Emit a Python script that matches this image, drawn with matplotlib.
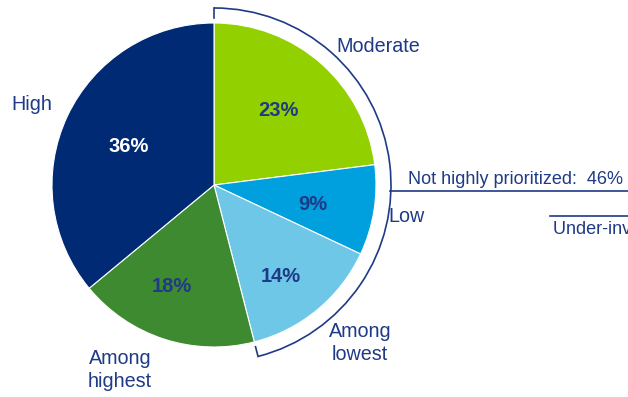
import matplotlib.pyplot as plt
from matplotlib.patches import Arc
import numpy as np

plt.rcParams['font.family'] = ['Liberation Sans', 'DejaVu Sans']

categories = ["Moderate", "Low", "Among\nlowest", "Among\nhighest", "High"]
shares = [23, 9, 14, 18, 36]
colors = ["#92D000", "#00A0DF", "#6FC7E8", "#3E8A30", "#002A74"]
pct_colors = ["#1F3A86", "#1F3A86", "#1F3A86", "#1F3A86", "white"]
bracket_label = "Not highly prioritized:  46%"
other_label = "Under-invested: 54%"

NAVY = "#1F3A86"
W, H = 628, 397
cx, cy, r = 214, H - 185, 162

fig = plt.figure(figsize=(W / 100, H / 100), dpi=100)
ax = fig.add_axes([0, 0, 1, 1])

wedges, texts, autotexts = ax.pie(
    shares, colors=colors, startangle=90, counterclock=False,
    center=(cx, cy), radius=r, frame=True,
    autopct=lambda p: f"{p:.0f}%", pctdistance=0.62,
    wedgeprops=dict(edgecolor="white", linewidth=0.8),
    textprops=dict(fontsize=14.5, fontweight="bold"))

# percentage labels sit a bit unevenly in the original
pct_pos = [(278, 111), (313, 204), (281, 277), (172, 287), (129, 147)]
for t, c, (x, y) in zip(autotexts, pct_colors, pct_pos):
    t.set_color(c)
    t.set_position((x, H - y))

# outside labels
label_pos = [(378, 46), (406, 216), (360, 343), (120, 370), (32, 104)]
for name, (x, y) in zip(categories, label_pos):
    ax.text(x, H - y, name, fontsize=14.2, color=NAVY, ha="center", va="center",
            linespacing=1.3)

# bracket around the first three slices
end_angle = 90 - 360 * sum(shares[:3]) / 100
br = 177
ax.add_patch(Arc((cx, cy), 2 * br, 2 * br, theta1=end_angle, theta2=90,
                 color=NAVY, linewidth=1.2))
for a in (90, end_angle):
    t = np.radians(a)
    ax.plot([cx + br * np.cos(t), cx + (br - 10) * np.cos(t)],
            [cy + br * np.sin(t), cy + (br - 10) * np.sin(t)],
            color=NAVY, linewidth=1.2)

ax.text(408, H - 180, bracket_label, fontsize=13, color=NAVY, ha="left", va="center")
ax.plot([390, 628], [H - 191, H - 191], color=NAVY, linewidth=1.2)
ax.plot([550, 628], [H - 216, H - 216], color=NAVY, linewidth=1.2)
ax.text(553, H - 229, other_label, fontsize=13, color=NAVY, ha="left", va="center")

ax.set_xlim(0, W)
ax.set_ylim(0, H)
ax.set_aspect("equal")
ax.axis("off")

fig.savefig("out.png", dpi=100)
